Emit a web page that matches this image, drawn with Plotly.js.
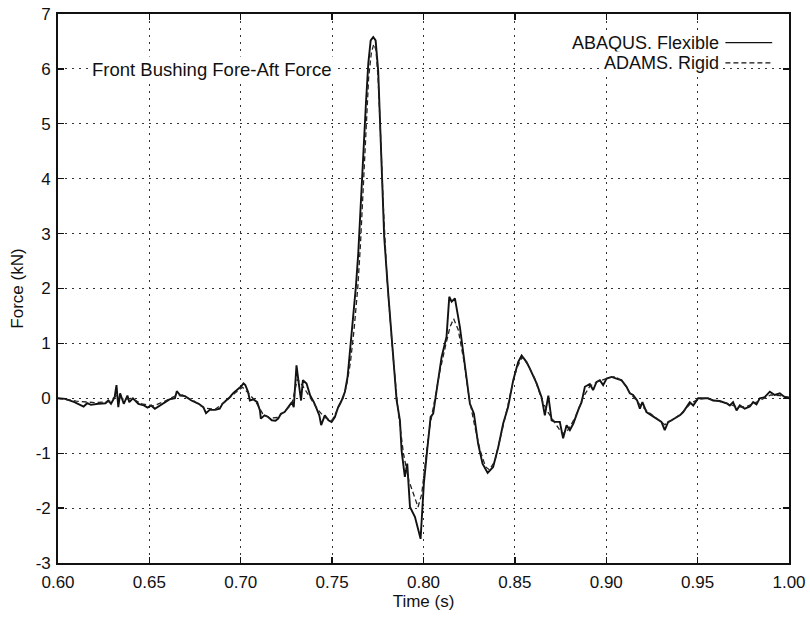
<!DOCTYPE html>
<html>
<head>
<meta charset="utf-8">
<script src="https://cdn.plot.ly/plotly-3.0.1.min.js"></script>
<style>html,body{margin:0;padding:0;background:#fff}#chart{width:810px;height:621px}</style>
</head>
<body>
<div id="chart"></div>
<script>
// ABAQUS, Flexible (solid)
const flexTime = [0.600,0.604,0.609,0.614,0.616,0.618,0.622,0.626,0.6275,0.629,0.631,0.632,0.633,0.634,0.636,0.638,0.639,0.641,0.644,0.647,0.649,0.651,0.653,0.656,0.658,0.661,0.664,0.665,0.667,0.6695,0.673,0.677,0.6795,0.681,0.683,0.686,0.6885,0.690,0.692,0.694,0.696,0.698,0.700,0.7015,0.7025,0.704,0.705,0.707,0.709,0.7105,0.711,0.713,0.715,0.717,0.719,0.7205,0.722,0.724,0.726,0.728,0.729,0.7305,0.732,0.733,0.734,0.736,0.738,0.740,0.7415,0.743,0.744,0.746,0.748,0.7497,0.7515,0.7533,0.7552,0.757,0.7585,0.7597,0.7615,0.763,0.7643,0.7656,0.767,0.7685,0.7698,0.7711,0.7725,0.7738,0.7752,0.7761,0.7774,0.7785,0.7807,0.7831,0.7853,0.7871,0.788,0.7898,0.7911,0.7926,0.7953,0.7984,0.8002,0.802,0.8039,0.8053,0.8072,0.8099,0.8126,0.8141,0.8154,0.8172,0.8199,0.8227,0.8254,0.8276,0.8299,0.8323,0.8351,0.8381,0.8409,0.8436,0.8463,0.8491,0.8518,0.8537,0.8564,0.8582,0.8619,0.8646,0.8664,0.8683,0.8701,0.8719,0.8746,0.8764,0.8783,0.8801,0.882,0.8846,0.8865,0.8883,0.891,0.8928,0.8947,0.8965,0.8983,0.9002,0.9029,0.9056,0.9083,0.9111,0.9129,0.9147,0.9169,0.9184,0.9198,0.922,0.9248,0.9275,0.9302,0.932,0.9339,0.9357,0.9375,0.9403,0.9421,0.9439,0.9457,0.9476,0.9503,0.953,0.9557,0.9585,0.9621,0.9658,0.9676,0.9694,0.9713,0.9731,0.9758,0.9786,0.9804,0.9822,0.984,0.9867,0.9895,0.9922,0.995,0.9977,1.000];
const flexForce = [0.00,-0.01,-0.07,-0.15,-0.09,-0.12,-0.10,-0.09,-0.04,-0.10,0.02,0.24,-0.16,0.09,-0.10,0.05,-0.07,0.00,-0.10,-0.13,-0.17,-0.13,-0.19,-0.13,-0.08,-0.02,0.00,0.13,0.05,0.04,-0.04,-0.10,-0.16,-0.27,-0.21,-0.21,-0.19,-0.10,-0.04,0.02,0.10,0.15,0.21,0.27,0.24,0.12,-0.04,-0.02,-0.07,-0.22,-0.37,-0.31,-0.34,-0.40,-0.41,-0.37,-0.28,-0.25,-0.15,-0.07,-0.16,0.60,0.21,-0.04,0.33,0.27,0.05,-0.07,-0.19,-0.31,-0.49,-0.31,-0.40,-0.43,-0.34,-0.16,-0.04,0.12,0.40,0.80,1.42,2.03,2.64,3.55,4.34,5.37,6.10,6.52,6.58,6.52,5.97,5.06,3.97,2.94,1.91,0.81,-0.04,-0.40,-0.95,-1.43,-1.19,-1.98,-2.16,-2.56,-1.55,-0.95,-0.34,-0.28,0.15,0.75,1.12,1.85,1.76,1.82,1.30,0.63,-0.10,-0.28,-0.83,-1.19,-1.36,-1.25,-0.89,-0.46,-0.16,0.33,0.66,0.78,0.66,0.54,0.27,0.02,-0.31,0.05,-0.40,-0.43,-0.43,-0.73,-0.49,-0.58,-0.46,-0.22,-0.07,0.21,0.26,0.15,0.30,0.33,0.24,0.36,0.39,0.36,0.33,0.21,0.09,0.06,-0.04,-0.19,-0.07,-0.25,-0.31,-0.37,-0.43,-0.58,-0.43,-0.40,-0.37,-0.31,-0.25,-0.16,-0.07,-0.13,0.00,0.00,0.00,-0.04,-0.05,-0.09,-0.13,-0.07,-0.22,-0.13,-0.19,-0.15,-0.07,-0.11,0.00,0.02,0.12,0.06,0.09,0.02,0.00];

// ADAMS, Rigid (dashed)
const rigidTime = [0.600,0.610,0.620,0.628,0.632,0.636,0.640,0.646,0.652,0.658,0.664,0.668,0.674,0.680,0.686,0.692,0.697,0.701,0.704,0.708,0.712,0.716,0.720,0.724,0.728,0.731,0.734,0.738,0.742,0.746,0.750,0.753,0.756,0.758,0.760,0.762,0.764,0.7655,0.767,0.7685,0.770,0.7715,0.7728,0.774,0.7752,0.7765,0.778,0.780,0.783,0.786,0.789,0.792,0.795,0.797,0.799,0.801,0.803,0.806,0.809,0.812,0.8145,0.8165,0.819,0.822,0.825,0.828,0.831,0.834,0.836,0.839,0.842,0.845,0.848,0.851,0.854,0.857,0.861,0.865,0.868,0.872,0.876,0.879,0.883,0.887,0.891,0.895,0.900,0.905,0.909,0.913,0.918,0.923,0.928,0.932,0.936,0.941,0.946,0.950,0.955,0.960,0.966,0.971,0.976,0.981,0.986,0.990,0.995,1.000];
const rigidForce = [0.00,-0.05,-0.08,-0.06,0.05,-0.02,0.00,-0.10,-0.14,-0.06,0.04,0.06,-0.04,-0.18,-0.20,-0.05,0.10,0.20,0.10,-0.05,-0.28,-0.36,-0.35,-0.24,-0.10,0.35,0.22,0.02,-0.20,-0.35,-0.40,-0.20,0.00,0.25,0.65,1.25,2.00,2.80,3.80,4.90,5.85,6.30,6.45,6.35,5.80,4.80,3.50,2.20,0.90,-0.20,-1.00,-1.50,-1.80,-1.98,-1.75,-1.20,-0.60,-0.05,0.50,0.95,1.30,1.45,1.25,0.70,0.00,-0.50,-0.95,-1.25,-1.30,-1.15,-0.75,-0.30,0.15,0.55,0.75,0.62,0.35,-0.05,-0.25,-0.45,-0.65,-0.58,-0.35,0.00,0.22,0.30,0.36,0.40,0.30,0.10,-0.10,-0.25,-0.38,-0.48,-0.40,-0.28,-0.10,-0.02,0.00,-0.04,-0.09,-0.15,-0.16,-0.09,0.00,0.06,0.05,0.02];

const seriesNames = ["ABAQUS. Flexible", "ADAMS. Rigid"];
const chartLabel = "Front Bushing Fore-Aft Force";
const xTitle = "Time (s)";
const yTitle = "Force (kN)";
const xTickVals = [0.60, 0.65, 0.70, 0.75, 0.80, 0.85, 0.90, 0.95, 1.00];
const xTickText = ["0.60", "0.65", "0.70", "0.75", "0.80", "0.85", "0.90", "0.95", "1.00"];
const yTickVals = [-3, -2, -1, 0, 1, 2, 3, 4, 5, 6, 7];
const yTickText = ["-3", "-2", "-1", "0", "1", "2", "3", "4", "5", "6", "7"];

const FONT = "Liberation Sans, Arial, Helvetica, sans-serif";
const INK = "#111";

const traces = [
  {x: flexTime, y: flexForce, type: "scatter", mode: "lines", name: seriesNames[0],
   line: {color: INK, width: 1.9}, showlegend: false},
  {x: rigidTime, y: rigidForce, type: "scatter", mode: "lines", name: seriesNames[1],
   line: {color: "#222", width: 1.3, dash: "5px,3px"}, showlegend: false}
];

const gridStyle = {showgrid: true, gridcolor: "#333", gridwidth: 1, griddash: "2px,5px"};

const layout = {
  width: 810, height: 621,
  margin: {l: 58, r: 21, t: 14, b: 58},
  paper_bgcolor: "#fff", plot_bgcolor: "#fff",
  font: {family: FONT, size: 17, color: INK},
  xaxis: Object.assign({
    range: [0.60, 1.00], tickmode: "array", tickvals: xTickVals, ticktext: xTickText,
    ticks: "inside", ticklen: 6, tickcolor: INK, tickwidth: 1.3, ticklabelstandoff: 3,
    showline: true, linecolor: INK, linewidth: 1.8, mirror: "ticks",
    zeroline: false, tickfont: {size: 17, family: FONT, color: INK},
    title: {text: xTitle, font: {size: 17, family: FONT, color: INK}, standoff: 3}
  }, gridStyle),
  yaxis: Object.assign({
    range: [-3, 7], tickmode: "array", tickvals: yTickVals, ticktext: yTickText,
    ticks: "inside", ticklen: 6, tickcolor: INK, tickwidth: 1.3, ticklabelstandoff: 2,
    showline: true, linecolor: INK, linewidth: 1.8, mirror: "ticks",
    zeroline: false, tickfont: {size: 17, family: FONT, color: INK},
    title: {text: yTitle, font: {size: 17, family: FONT, color: INK}, standoff: 8}
  }, gridStyle),
  annotations: [
    {text: chartLabel, xref: "paper", yref: "paper", x: 0.042, y: 0.898,
     xanchor: "left", yanchor: "middle", showarrow: false, bgcolor: "#fff", borderpad: 2,
     font: {size: 18.5, family: FONT, color: INK}},
    {text: seriesNames[0], xref: "paper", yref: "paper", x: 0.907, y: 0.948,
     xanchor: "right", yanchor: "middle", showarrow: false, bgcolor: "#fff", borderpad: 1,
     font: {size: 18, family: FONT, color: INK}},
    {text: seriesNames[1], xref: "paper", yref: "paper", x: 0.907, y: 0.911,
     xanchor: "right", yanchor: "middle", showarrow: false, bgcolor: "#fff", borderpad: 1,
     font: {size: 18, family: FONT, color: INK}}
  ],
  shapes: [
    {type: "line", xref: "paper", yref: "paper", x0: 0.913, x1: 0.977, y0: 0.948, y1: 0.948,
     line: {color: INK, width: 1.3}},
    {type: "line", xref: "paper", yref: "paper", x0: 0.913, x1: 0.977, y0: 0.911, y1: 0.911,
     line: {color: INK, width: 1.2, dash: "5px,3px"}}
  ]
};

Plotly.newPlot("chart", traces, layout, {displayModeBar: false, staticPlot: true});
</script>
</body>
</html>
